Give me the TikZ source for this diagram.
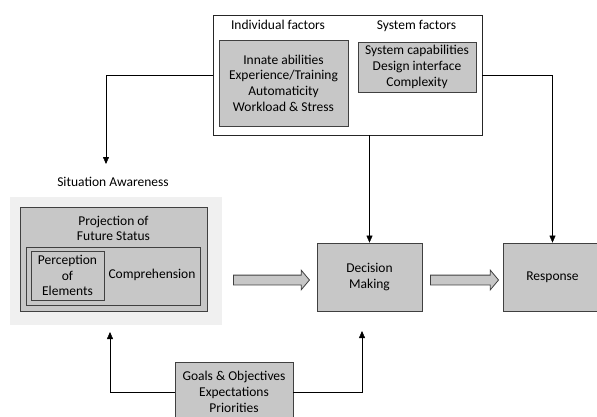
\documentclass[tikz,border=0pt]{standalone}
\usepackage{fontspec}
\setmainfont{Carlito}
\usetikzlibrary{arrows.meta,shapes.arrows,shadows}

\begin{document}
\begin{tikzpicture}[x=1pt, y=-1pt, ->, >={Triangle[length=7pt,width=6pt]},
    font=\fontsize{13.5}{15.7}\selectfont]
  \tikzstyle{box}=[draw=black!75, fill=black!22, line width=0.8pt, align=center, inner sep=0pt,
    drop shadow={shadow xshift=1pt, shadow yshift=-1pt, opacity=0.35}]
  \tikzstyle{frame}=[draw=black!85, fill=white, line width=0.8pt, inner sep=0pt]
  \tikzstyle{fatarrow}=[single arrow, draw=black!75, fill=black!22, line width=0.8pt, inner sep=0pt,
    text height=4.5pt, text depth=4.5pt, single arrow head extend=5pt, single arrow tip angle=100]

  \useasboundingbox (0,0) rectangle (597,416);

  % factors
  \node[frame, minimum width=269pt, minimum height=120pt] (factors) at (347.5,75) {};
  \node (ind-title) at (278,25) {Individual factors};
  \node (sys-title) at (416.5,26) {System factors};
  \node[box, minimum width=129pt, minimum height=86pt] (ind) at (283.5,83)
    {Innate abilities\\Experience/Training\\Automaticity\\Workload \& Stress};
  \node[box, minimum width=118pt, minimum height=50pt] (sys) at (417,67)
    {System capabilities\\Design interface\\Complexity};

  % situation awareness
  \node (sa-title) at (113,182) {Situation Awareness};
  \node[fill=black!6, minimum width=212pt, minimum height=128pt] (sa) at (116,261) {};
  \node[box, minimum width=187pt, minimum height=104pt] (proj) at (113.5,259) {};
  \node[align=center] (proj-text) at (113.5,228.5) {Projection of\\Future Status};
  \node[box, minimum width=174pt, minimum height=58pt] (comp) at (113,276) {};
  \node (comp-text) at (152,275) {Comprehension};
  \node[box, minimum width=73pt, minimum height=49pt] (perc) at (67.5,275.5) {Perception\\of\\Elements};

  \node[box, minimum width=105pt, minimum height=68pt] (dm) at (369.5,277) {Decision\\Making};
  \node[box, minimum width=99pt, minimum height=68pt] (resp) at (552.5,277) {Response};
  \node[box, minimum width=118pt, minimum height=60pt] (goals) at (234,392)
    {Goals \& Objectives\\Expectations\\Priorities};

  \coordinate (sa-in) at (106,164);
  \coordinate (sa-up) at (110,332);
  \coordinate (dm-up) at (362,331);

  \draw (factors.west) -| (sa-in);
  \draw (factors.south -| dm.north) -- (dm.north);
  \draw (factors.east) -| (resp.north);
  \draw (goals.west) -| (sa-up);
  \draw (goals.east) -| (dm-up);

  \path[-] ([yshift=-3pt]sa.east |- dm.west) -- node[fatarrow, minimum height=76pt] {} ([yshift=-3pt]dm.west);
  \path[-] ([yshift=-3pt]dm.east) -- node[fatarrow, minimum height=68pt] {} ([yshift=-3pt]resp.west);
\end{tikzpicture}
\end{document}
